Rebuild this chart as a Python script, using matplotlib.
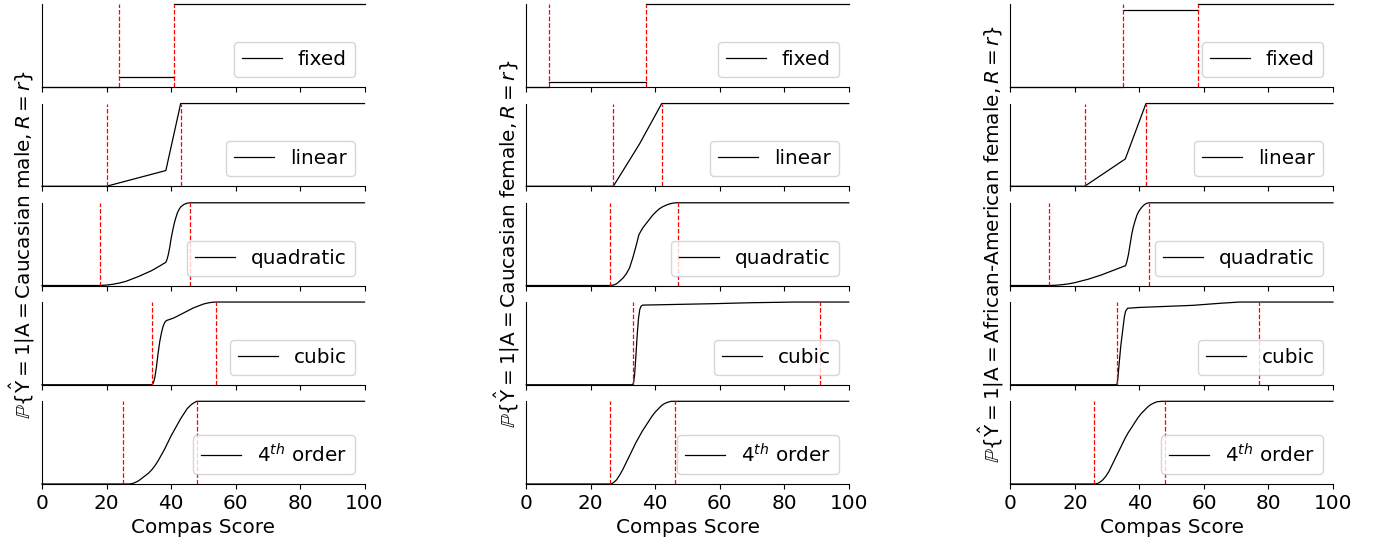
import numpy as np
import matplotlib
matplotlib.use('Agg')
import matplotlib.pyplot as plt

plt.rcParams['font.size'] = 14.4

groups = ['Caucasian male', 'Caucasian female', 'African-American female']
models = ['fixed', 'linear', 'quadratic', 'cubic', r'$4^{th}$ order']

# red dashed thresholds (per model) for each group
cm_thresh = [(24, 41), (20, 43), (18, 46), (34, 54), (25, 48)]
cf_thresh = [(7, 37), (27, 42), (26, 47), (33, 91), (26, 46)]
af_thresh = [(35, 58), (23, 42), (12, 43), (33, 77), (26, 48)]

# fixed model: piecewise constant levels between edges
cm_fixed_edges = [0, 24, 41, 100]
cm_fixed_levels = [0, 0.12, 1]
cf_fixed_edges = [0, 7, 37, 100]
cf_fixed_levels = [0, 0.055, 1]
af_fixed_edges = [0, 35, 58, 100]
af_fixed_levels = [0, 0.93, 1]

# Caucasian male
cm_lin_x = [0, 20, 38.4, 43, 100]
cm_lin_y = [0, 0, 0.19, 1, 1]
cm_quad_x = [0, 18, 20, 22, 24, 26, 28, 30, 32, 34, 36, 38.4, 38.8, 39.2, 39.6, 40, 40.5,
             41, 41.5, 42, 42.5, 43, 44, 45, 46, 100]
cm_quad_y = [0, 0, 0.005, 0.015, 0.03, 0.05, 0.08, 0.11, 0.145, 0.18, 0.225, 0.28, 0.32,
             0.38, 0.46, 0.56, 0.66, 0.75, 0.82, 0.88, 0.92, 0.95, 0.98, 0.995, 1, 1]
cm_cub_x = [0, 34.2, 34.6, 35, 35.5, 36, 36.5, 37, 37.5, 38, 38.5, 39.2, 40, 41, 42, 43, 44,
            45, 46, 47, 48, 49, 50, 51, 52, 53, 54, 100]
cm_cub_y = [0, 0, 0.03, 0.09, 0.22, 0.38, 0.52, 0.62, 0.7, 0.75, 0.775, 0.785, 0.795, 0.81,
            0.83, 0.85, 0.87, 0.89, 0.91, 0.93, 0.945, 0.96, 0.975, 0.985, 0.993, 0.998, 1, 1]
cm_q4_x = [0, 27, 28, 29, 30, 31, 32, 33, 34, 35, 36, 37, 38, 39, 40, 41, 42, 43, 44, 45,
           46, 47, 48, 100]
cm_q4_y = [0, 0, 0.005, 0.02, 0.04, 0.07, 0.1, 0.13, 0.17, 0.22, 0.28, 0.35, 0.42, 0.5,
           0.58, 0.65, 0.72, 0.79, 0.85, 0.91, 0.95, 0.98, 1, 1]

# Caucasian female
cf_lin_x = [0, 27, 35.1, 42, 100]
cf_lin_y = [0, 0, 0.51, 1, 1]
cf_quad_x = [0, 26, 27, 28, 28.9, 30, 31, 32, 33, 34, 34.9, 35.5, 36.2, 37.2, 38.2, 39.2,
             40.2, 41.2, 42.2, 43.3, 44.3, 45.3, 46.4, 100]
cf_quad_y = [0, 0, 0.005, 0.02, 0.05, 0.09, 0.14, 0.21, 0.33, 0.47, 0.61, 0.655, 0.7, 0.75,
             0.8, 0.85, 0.89, 0.925, 0.95, 0.97, 0.985, 0.995, 1, 1]
cf_cub_x = [0, 33, 33.3, 33.6, 34, 34.4, 34.8, 35.2, 35.6, 36.1, 45, 57.8, 70, 83.6, 100]
cf_cub_y = [0, 0, 0.03, 0.12, 0.35, 0.6, 0.8, 0.91, 0.95, 0.963, 0.97, 0.98, 0.992, 1, 1]
cf_q4_x = [0, 26, 26.5, 27, 28, 29, 30, 31, 32, 33, 34, 35, 36, 37, 38, 39, 40, 41, 42, 43,
           44, 45, 100]
cf_q4_y = [0, 0, 0.005, 0.015, 0.05, 0.11, 0.18, 0.26, 0.34, 0.42, 0.5, 0.57, 0.64, 0.7,
           0.76, 0.82, 0.87, 0.91, 0.95, 0.975, 0.99, 1, 1]

# African-American female
af_lin_x = [0, 23, 35.6, 42, 100]
af_lin_y = [0, 0, 0.33, 1, 1]
af_quad_x = [0, 12, 14, 16, 18, 20, 22, 24, 26, 28, 30, 32, 34, 35.7, 36.1, 36.6, 37.1,
             37.6, 38.1, 38.7, 39.3, 40, 40.8, 41.6, 42.3, 43, 100]
af_quad_y = [0, 0, 0.003, 0.01, 0.02, 0.035, 0.055, 0.075, 0.1, 0.125, 0.155, 0.185, 0.215,
             0.24, 0.29, 0.38, 0.5, 0.62, 0.71, 0.79, 0.86, 0.91, 0.95, 0.98, 0.995, 1, 1]
af_cub_x = [0, 33, 33.3, 33.7, 34.2, 34.8, 35.3, 35.7, 36.3, 40, 50, 56.5, 65, 71, 100]
af_cub_y = [0, 0, 0.08, 0.26, 0.47, 0.66, 0.82, 0.89, 0.925, 0.935, 0.95, 0.96, 0.985, 1, 1]
af_q4_x = [0, 26.5, 27.5, 28.5, 29.5, 30.5, 31.5, 32.5, 33.5, 34.5, 35.5, 36.5, 37.5, 38.5,
           39.5, 40.5, 41.5, 42.5, 43.5, 44.5, 45.5, 47, 100]
af_q4_y = [0, 0, 0.015, 0.045, 0.09, 0.15, 0.23, 0.31, 0.39, 0.47, 0.55, 0.62, 0.68, 0.74,
           0.8, 0.85, 0.89, 0.93, 0.96, 0.98, 0.995, 1, 1]

thresh = [cm_thresh, cf_thresh, af_thresh]
fixed = [(cm_fixed_edges, cm_fixed_levels), (cf_fixed_edges, cf_fixed_levels),
         (af_fixed_edges, af_fixed_levels)]
curves = [
    [(cm_lin_x, cm_lin_y), (cm_quad_x, cm_quad_y), (cm_cub_x, cm_cub_y), (cm_q4_x, cm_q4_y)],
    [(cf_lin_x, cf_lin_y), (cf_quad_x, cf_quad_y), (cf_cub_x, cf_cub_y), (cf_q4_x, cf_q4_y)],
    [(af_lin_x, af_lin_y), (af_quad_x, af_quad_y), (af_cub_x, af_cub_y), (af_q4_x, af_q4_y)],
]

fig = plt.figure(figsize=(13.85, 5.5), dpi=100)
gs = fig.add_gridspec(5, 3, left=42 / 1385, right=1333 / 1385, bottom=1 - 484 / 550,
                      top=1 - 4.3 / 550, wspace=0.5015, hspace=0.2)

for j, g in enumerate(groups):
    for i, m in enumerate(models):
        ax = fig.add_subplot(gs[i, j])
        if i == 0:
            edges, levels = fixed[j]
            for k in range(len(levels)):
                ax.plot([edges[k], edges[k + 1]], [levels[k], levels[k]], 'k-', lw=0.9,
                        clip_on=False, label=m if k == 0 else None)
        else:
            x, y = curves[j][i - 1]
            ax.plot(x, y, 'k-', lw=0.9, clip_on=False, label=m)
        for t in thresh[j][i]:
            ax.axvline(t, color='r', ls='--', lw=0.9)
        ax.set_xlim(0, 100)
        ax.set_ylim(0, 1)
        ax.set_yticks([])
        ax.spines['top'].set_visible(False)
        ax.spines['right'].set_visible(False)
        ax.set_xticks([0, 20, 40, 60, 80, 100])
        if i < 4:
            ax.set_xticklabels([])
        else:
            ax.set_xlabel('Compas Score')
        ax.legend(loc='lower right')
        if i == 2:
            ax.set_ylabel(r'$\mathbb{P}\{\hat{\mathrm{Y}}=1|\mathrm{A}=$' + g + r'$, R=r\}$')

fig.savefig('out.png', dpi=100)
